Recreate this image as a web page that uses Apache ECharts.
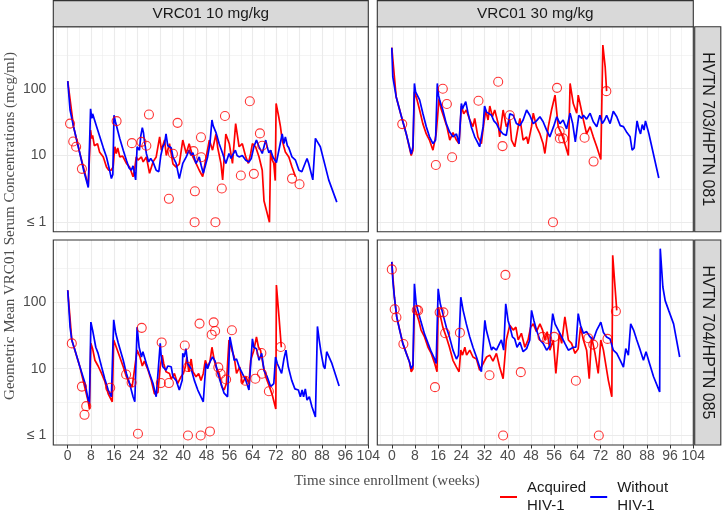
<!DOCTYPE html>
<html><head><meta charset="utf-8">
<script src="https://cdn.jsdelivr.net/npm/echarts@6/dist/echarts.min.js"></script>
<style>html,body{margin:0;padding:0;background:#fff}#c{width:722px;height:516px}</style>
</head><body><div id="c"></div>
<script>
// ---------- facet labels ----------
const doseLabels = ['VRC01 10 mg/kg', 'VRC01 30 mg/kg'];
const trialLabels = ['HVTN 703/HPTN 081', 'HVTN 704/HPTN 085'];
const legendNames = ['Acquired\nHIV-1', 'Without\nHIV-1'];
const xTitle = 'Time since enrollment (weeks)';
const yTitle = 'Geometric Mean VRC01 Serum Concentrations (mcg/ml)';

// ---------- axes / breaks ----------
const xTickLabels = [0, 8, 16, 24, 32, 40, 48, 56, 64, 72, 80, 88, 96, 104];
const xMinorBreaks = [-4, 4, 12, 20, 28, 36, 44, 52, 60, 68, 76, 84, 92, 100];
const yTickValues = [1, 10, 100];
const yMinorBreaks = [3.16, 31.6, 316];

// ---------- HVTN 703, 10 mg/kg ----------
const p703_10_acquired = [[0,130],[2,27],[4.2,10.7],[7.1,3.5],[7.9,24],[8.3,18],[8.6,20],[9.2,14],[9.8,13.5],[10.3,15],[11,11.3],[12.3,9.5],[13.4,6.7],[14.2,6],[15,6],[15.7,6.7],[16.3,13.5],[16.8,10.7],[17.3,13],[18,9.5],[19,9.8],[20.3,7.6],[21.4,6.7],[22.6,4.8],[23.1,6],[23.7,9.5],[24.3,8.5],[25.5,9.5],[26.1,8],[27.2,9.5],[28.3,5.4],[29.5,8],[30.6,9.5],[31.8,19],[32.4,12],[33.5,17],[34.1,10],[35.2,15],[36.4,7.5],[37.5,6.7],[38.6,7.5],[39.8,17],[41,10.7],[42,15],[43.3,9.5],[44.4,7.6],[45.5,6],[46.7,4.8],[47.8,9],[49,17],[50.1,12],[51.3,21],[51.9,13],[53,7.6],[53.6,4.3],[54.7,21],[55.9,15],[57,7.6],[58.1,30],[59.3,13.5],[60.4,15],[61.6,9.5],[62.5,7.6],[63.3,10.7],[63.9,15],[65,13.5],[66.2,9.5],[67.3,6],[67.9,2.1],[69.8,1.0],[70.2,12],[70.8,8.5],[71.3,7.6],[71.8,4.2],[72.1,60],[73,38],[73.6,27],[74.2,17],[74.8,13.5],[75.3,11.3],[76.5,9.5],[77.6,6.7],[78.8,4.8]];
const p703_10_without = [[0,130],[0.8,48],[2,27],[4.2,10.7],[5.5,6],[7.1,3.3],[7.9,50],[8.3,36],[8.6,42],[9,40],[10,27],[11.1,19],[12.3,13],[13.4,9.5],[14.3,6.5],[15.1,4.5],[15.6,5.2],[16,40],[16.5,32],[16.9,30],[18,18],[19.2,12],[20.3,8.5],[21.2,6.5],[22,6],[22.6,7],[23.5,4.3],[24,13.5],[24.8,12],[25.3,20],[25.8,26],[26.2,22],[26.5,17],[27.2,10.7],[28,8],[28.7,9],[29.5,8],[30.6,6],[31.5,5.7],[32.2,10],[32.9,13.5],[33.5,15],[34,21],[34.6,14],[35.2,15],[35.8,13],[36.4,9.5],[37.5,7.6],[38.6,4.5],[39.8,7.6],[41,9.5],[42,12],[42.7,10],[43.3,11],[44.4,7.6],[45.5,9.5],[46.2,7],[46.9,5.4],[47.6,7],[48.4,9.5],[49.2,15],[49.9,34],[50.3,28],[50.7,27],[51.3,22],[52.4,15],[53.6,10.7],[54.7,7.6],[55.8,10.7],[56.5,9],[57,10],[58,12],[58.6,10],[59.3,9.5],[60.4,10],[61.6,8.5],[62.7,8],[63.5,9],[64.4,13.5],[65.3,17],[66.2,13.5],[67.3,10.7],[68.5,17],[69.1,13],[69.6,11],[70.2,12],[71,9.5],[72.2,7.8],[73.3,13.5],[74.2,21],[74.8,15],[75.3,19],[76,14],[76.5,13],[77.6,9.5],[78.8,8.5],[80,6],[81,5.7],[81.8,7],[82.8,9],[83.4,7.5],[84,7.6],[84.8,4.3],[85.7,18],[86.4,16],[87.4,13.5],[90.3,4.3],[93.1,2.0]];
const p703_10_obs = [[0.8,30],[1.9,16.2],[2.9,13.5],[4.9,6.3],[16.9,32.7],[22.2,15.3],[25.5,16],[27.2,14],[28.1,41],[35,2.24],[36.4,10.6],[38,30.8],[43.5,11.6],[44,2.9],[43.9,1.0],[46.1,18.7],[46.2,9.4],[51.1,1.0],[53.3,3.2],[54.4,39],[59.9,5],[63,65],[64.4,5.3],[66.5,21.4],[67.3,14],[77.6,4.5],[80.2,3.7]];

// ---------- HVTN 703, 30 mg/kg ----------
const p703_30_acquired = [[0,412],[1.5,76],[3.2,40],[5,21],[6.7,10],[7.3,12],[7.8,90],[8.6,71],[9.6,48],[10.7,30],[11.9,21],[13,17],[14.2,12],[15.3,21],[16.3,71],[17,50],[17.9,38],[19,27],[20,17],[21.1,22],[22.3,17],[23.2,15],[24,55],[24.8,42],[25.7,48],[26.9,34],[28,27],[28.6,36],[29.7,19],[30.9,15],[31.5,25],[32.4,48],[33.2,34],[33.8,55],[34.7,38],[35.5,48],[36.7,30],[37.2,19],[38.4,48],[39.5,27],[40.7,34],[41.3,17],[42.4,13.5],[43.6,27],[44.2,36],[45.3,17],[46.5,19],[47,15],[48.2,27],[48.8,43],[49.9,27],[51.1,21],[52.2,15],[52.8,10.7],[54,27],[55.1,48],[56.3,80],[57.4,27],[58.6,21],[59.7,15],[60.9,10],[61.5,120],[62.6,60],[63.8,43],[64.3,80],[65.1,55],[66.1,34],[67.2,21],[68.4,27],[69.5,19],[70.7,13.5],[72.1,8.7],[72.8,450],[73.6,213],[74.1,92]];
const p703_30_without = [[0,412],[0.35,150],[1.5,76],[3.2,40],[5,21],[6.7,10.5],[7.3,13.5],[7.8,120],[8.2,90],[8.6,95],[9.6,68],[10.7,43],[11.9,27],[13,19],[14.2,15],[15.1,17],[15.7,120],[16.1,80],[16.5,68],[17.6,48],[18.8,30],[19.9,22.6],[21.1,19],[22.3,21],[23.2,15],[24,60],[24.4,50],[24.8,55],[25.5,64],[26.3,43],[27.4,27],[28.6,19],[29.5,16],[30.3,13.5],[31.5,27],[32,55],[32.6,45],[33.2,48],[34.4,40],[35.2,33],[36.1,30],[37.2,24],[38.4,21],[39.5,20],[40.7,42],[41.9,40],[43,30],[44.2,28],[45.3,34],[46.5,48],[47.6,40],[48.8,30],[49.9,33],[51.1,38],[52.2,32],[53.4,24],[54.5,19],[55.8,27],[56.9,38],[58,30],[59.1,34],[60.3,25],[61.5,43],[62.4,30],[63.3,16],[64.5,40],[65.5,36],[66.1,40],[67.2,35],[68.4,43],[69.5,32],[70.7,27],[71.8,40],[72.6,30],[73.4,34],[74.1,40],[75.3,30],[76.4,46],[77.6,38],[78.8,28],[79.9,27],[81.1,22],[82.2,19],[82.9,12],[83.6,13],[84.6,33],[85.2,25],[85.8,21],[86.4,29],[87,24],[87.5,33],[88.7,21],[92.1,4.6]];
const p703_30_obs = [[3.6,29.5],[17.6,100],[19,59],[15.2,7.2],[20.8,9.4],[29.9,66],[36.7,127],[38.2,13.8],[40.7,40],[55.6,1.0],[57,103],[57.9,23],[58,18],[59.1,18],[66.5,18.4],[69.6,8.1],[74,92]];

// ---------- HVTN 704, 10 mg/kg ----------
const p704_10_acquired = [[0,150],[1.4,27],[4.2,10.7],[7.1,3.2],[7.5,2.5],[8,24],[8.6,20],[9.4,13.4],[10.5,11],[11.7,8.5],[12.8,6.5],[14,4.2],[15.4,3.2],[15.9,27],[16.8,21],[18,15],[19.2,10.7],[20.3,7.6],[21.4,6],[22.3,5.4],[24,19],[25,15],[25.8,11],[26.5,13],[27.8,9.5],[28.9,6.7],[30,4.2],[31.2,4.4],[32,10.7],[32.7,16],[33.2,12],[34,9],[35.2,8.5],[35.8,7],[36.9,8.5],[38,6],[39.2,7.6],[40,8.5],[40.7,10.7],[41.2,15],[41.9,9],[42.7,14],[43.3,9],[44.4,7.6],[45.3,8.5],[46.1,6.7],[46.9,8.5],[47.6,13.4],[48.4,10.7],[49.2,12.7],[49.9,21],[50.7,13.4],[51.3,10.7],[52.4,8.5],[53.3,5.4],[54.1,4.8],[54.9,6],[55.8,27],[56.8,19],[57.6,15],[58.4,8.5],[59.5,10.7],[60.4,6],[61.6,7.6],[62.7,6],[63.3,13.4],[64.4,19],[65.3,30],[66,21],[66.7,19],[67.5,12],[68.5,7.6],[69.8,5.4],[70.8,4],[72,2.5],[72.2,180],[73.1,60],[73.9,21]];
const p704_10_without = [[0,150],[0.8,42],[1.4,27],[2.5,19],[4.2,10.7],[6,6],[7.1,3.4],[7.5,3],[8,50],[8.6,38],[9,36],[9.7,21],[10.5,17],[11.7,10.7],[12.8,7.1],[14,4.8],[15.1,3.8],[15.9,54],[16.6,34],[17.4,25],[18.2,19],[19.2,13.4],[20.3,8.5],[21.4,6],[22.6,3.8],[23.2,3.2],[24,42],[24.7,21],[25.5,15],[26,18],[27.2,12],[28.3,8.5],[29.5,6],[30.6,3.8],[32,24],[32.3,16],[32.9,10.7],[34,9.5],[34.6,11],[35.8,10.7],[36.4,7.6],[37.5,6.7],[38.6,4.8],[39.6,6.7],[39.8,17],[40.3,15],[40.9,20],[41.5,12],[42.7,10],[43.8,6.7],[45,4.8],[46.1,3.8],[46.9,3.2],[47.8,12],[48.4,10],[49.2,12.7],[50.1,15],[51,13],[51.8,9],[53,6],[54.1,4.3],[55.3,3.8],[56.1,30],[56.8,21],[57.6,13.4],[58.4,14],[59.3,10.7],[60.4,8.5],[61.6,6.7],[62.7,4.8],[63.3,4.6],[63.9,28],[64.4,21],[65.3,20],[66.2,13.4],[67.1,17],[67.9,9.5],[69,7.6],[70.2,5.4],[71.3,6],[71.9,15],[72.5,12],[74,8.5],[74.8,14],[75.5,19],[76.3,10.7],[77.5,6.7],[78.6,5],[79.8,4.8],[80.5,3.8],[81.1,4.8],[81.6,3.8],[82.2,5],[82.8,3.4],[83.6,3.8],[84.5,2.7],[85.7,1.9],[86.4,43],[87,27],[87.7,17],[88.5,11],[89,10],[89.6,18],[91.4,12],[93.9,5.5]];
const p704_10_obs = [[1.4,24],[4.9,5.4],[6.4,2.75],[5.8,2.04],[14.7,5.2],[20.2,8.2],[22.1,6.2],[24.3,1.06],[25.6,41],[32.5,24.8],[32.2,6.1],[35,6.1],[40.5,22.3],[41.6,10.6],[41.6,1.0],[45.6,47.5],[46,1.0],[49.2,1.15],[49.8,32.4],[50.5,49.6],[51,36.8],[52.1,10.5],[52.9,8.4],[54.8,6.9],[56.8,37.7],[61.4,6.6],[64.9,7.1],[67,17.2],[67.2,8.4],[69.6,4.6],[73.7,21.2]];

// ---------- HVTN 704, 30 mg/kg ----------
const p704_30_acquired = [[0,400],[0.9,118],[1.7,60],[3.8,24],[6.1,12.6],[6.7,9],[7.3,10],[7.8,84],[8.4,70],[9.3,53],[10.1,38],[11.3,30],[12.5,21],[13.6,17],[14.8,12],[15.6,9],[16,84],[16.7,63],[17.6,42],[18.8,30],[19.9,21],[21.1,13.4],[22.3,10.6],[23.2,9],[23.8,19],[24.4,16],[25.2,21],[25.8,16],[26.9,19],[28,15],[29.2,14],[30.3,9.5],[30.9,9],[32.1,13.4],[32.7,15],[33.8,16],[34.9,13],[36.1,17],[37.2,10.6],[38.4,7.1],[39.5,27],[40.7,45],[41.9,38],[42.8,42],[43.6,27],[44.7,34],[45.9,21],[47,27],[47.9,42],[48.8,47],[49.9,36],[51.1,47],[52,38],[52.8,27],[53.6,36],[54.5,19],[55.7,27],[56.6,8.5],[57.8,34],[58.6,24],[59.7,60],[60.9,27],[62,24],[63.2,17],[64.3,20],[65.1,42],[66.1,27],[67.2,19],[68.1,7.1],[68.9,30],[70.1,17],[71.2,8.5],[72.1,27],[73,19],[74.7,6.7],[75.9,3.8],[76.2,500],[77,168],[77.6,75]];
const p704_30_without = [[0,400],[0.35,210],[0.9,118],[1.7,60],[2.7,38],[3.8,24],[5,17],[6.1,12.6],[6.7,10],[7.3,11.3],[7.8,188],[8.4,95],[9,75],[10.1,50],[11.3,33],[12.5,24],[13.6,18],[14.8,14],[15.3,12],[16,158],[16.7,95],[17.6,67],[18.8,42],[19.9,30],[21.1,19],[22.3,14],[23,16],[23.8,118],[24.6,75],[25.7,47],[26.9,30],[28,21],[29.2,15],[30.3,10.6],[30.9,9],[32.1,53],[32.6,38],[33.8,24],[34.4,19],[34.9,21],[36.1,19],[37.2,24],[37.8,27],[38.6,19],[39.3,94],[40.1,53],[40.9,40],[41.6,30],[42.4,28],[43.2,21],[44.2,25],[45.3,18],[46.5,20],[47.6,27],[48.2,75],[49,53],[49.9,38],[51.1,27],[52.2,24],[53.4,19],[54.5,22],[55.5,67],[56.3,47],[57.4,38],[58.6,30],[59.7,24],[60.9,19],[62.6,21],[63.5,21],[64.3,67],[65.1,45],[66.1,34],[67.2,36],[68.4,30],[69.5,27],[70.7,38],[71.6,45],[72.1,50],[73,35],[74.1,30],[75.3,28],[76.4,19],[77.6,17],[78.8,13.4],[79.9,10.6],[80.7,20],[81.6,16],[82.4,47],[83.4,38],[84.5,27],[85.7,19],[86.8,13.4],[87.7,18],[88.9,12],[90.3,7.6],[92.4,4.5],[92.6,630],[93.5,168],[94.3,105],[95.5,75],[97.2,47],[99.3,15]];
const p704_30_obs = [[0,308],[1,78],[1.6,59],[4,23.5],[8.6,76],[9.1,75],[14.9,5.3],[16.5,70],[17.8,70],[18.4,34],[23.5,34.7],[33.7,8],[39.2,255],[38.4,1.0],[44.5,8.9],[52,30],[53.6,28],[56,30],[63.5,6.6],[67.8,28.6],[69.5,23],[71.4,1.0],[74.4,28],[77.3,72.6]];

// ---------- build ----------
const panelAcq = [p703_10_acquired, p703_30_acquired, p704_10_acquired, p704_30_acquired];
const panelWo = [p703_10_without, p703_30_without, p704_10_without, p704_30_without];
const panelObs = [p703_10_obs, p703_30_obs, p704_10_obs, p704_30_obs];

const RED = '#FF0000', BLUE = '#0000FF';
const SANS = 'Liberation Sans', SERIF = 'Liberation Serif';
const GRIDS = [
  {left: 53.3, top: 26.7, width: 315, height: 205},
  {left: 377.3, top: 26.7, width: 316, height: 205},
  {left: 53.3, top: 240, width: 315, height: 205},
  {left: 377.3, top: 240, width: 316, height: 205}
];
const MAJ = {color: '#EBEBEB', width: 1.1, type: 'solid'};
const MIN = {color: '#EBEBEB', width: 0.55, type: 'solid'};

const gridLines = [];
xMinorBreaks.forEach(v => gridLines.push({xAxis: v, lineStyle: MIN}));
yMinorBreaks.forEach(v => gridLines.push({yAxis: v, lineStyle: MIN}));
xTickLabels.forEach(v => gridLines.push({xAxis: v, lineStyle: MAJ}));
yTickValues.forEach(v => gridLines.push({yAxis: v, lineStyle: MAJ}));

const yLabelMap = {1: '\u2264 1', 10: '10', 100: '100'};

const xAxes = [], yAxes = [], series = [], graphics = [];
GRIDS.forEach((g, i) => {
  const bottomRow = i >= 2, leftCol = i % 2 === 0;
  xAxes.push({
    type: 'value', gridIndex: i, min: -5, max: 104, position: 'bottom',
    axisLine: {show: false, onZero: false},
    splitLine: {show: false},
    axisTick: {show: bottomRow, customValues: xTickLabels, length: 3.5, lineStyle: {color: '#333333', width: 1}},
    axisLabel: {show: bottomRow, customValues: xTickLabels, margin: 4, fontSize: 14, color: '#4D4D4D', fontFamily: SANS}
  });
  yAxes.push({
    type: 'log', logBase: 10, gridIndex: i, min: 0.72, max: 850,
    axisLine: {show: false},
    splitLine: {show: false}, minorSplitLine: {show: false}, minorTick: {show: false},
    axisTick: {show: leftCol, customValues: yTickValues, length: 3.5, lineStyle: {color: '#333333', width: 1}},
    axisLabel: {show: leftCol, customValues: yTickValues, margin: 7, fontSize: 14, color: '#4D4D4D', fontFamily: SANS,
      formatter: v => { const k = Math.round(v); return yLabelMap[k] !== undefined && Math.abs(v - k) < 1e-6 ? yLabelMap[k] : ''; }}
  });
  series.push({
    type: 'line', name: legendNames[0], xAxisIndex: i, yAxisIndex: i, data: panelAcq[i],
    showSymbol: false, symbol: 'none', z: 2,
    lineStyle: {color: RED, width: 1.7}, itemStyle: {color: RED}
  });
  series.push({
    type: 'line', name: legendNames[1], xAxisIndex: i, yAxisIndex: i, data: panelWo[i],
    showSymbol: false, symbol: 'none', z: 3,
    lineStyle: {color: BLUE, width: 1.7}, itemStyle: {color: BLUE}
  });
  series.push({
    type: 'scatter', name: 'obs', xAxisIndex: i, yAxisIndex: i, data: panelObs[i],
    symbol: 'circle', symbolSize: 9, z: 4,
    itemStyle: {color: 'rgba(0,0,0,0)', borderColor: RED, borderWidth: 1.1},
    markLine: {silent: true, z: 1, symbol: ['none', 'none'], label: {show: false},
      emphasis: {disabled: true}, animation: false, data: gridLines}
  });
  // panel border on top
  graphics.push({type: 'rect', z: 100, silent: true,
    shape: {x: g.left, y: g.top, width: g.width, height: g.height},
    style: {fill: 'none', stroke: '#333333', lineWidth: 1.1}});
});

// top strips
[0, 1].forEach(c => {
  const g = GRIDS[c];
  graphics.push({type: 'rect', z: 100, silent: true,
    shape: {x: g.left, y: 0.6, width: g.width, height: g.top - 0.6},
    style: {fill: '#D9D9D9', stroke: '#333333', lineWidth: 1.1}});
  graphics.push({type: 'text', z: 101, silent: true, x: g.left + g.width / 2, y: (g.top + 0.6) / 2,
    style: {text: doseLabels[c], fill: '#1A1A1A', font: '15.3px "' + SANS + '"', align: 'center', verticalAlign: 'middle'}});
});
// right strips
[0, 1].forEach(r => {
  const g = GRIDS[r * 2 + 1];
  graphics.push({type: 'rect', z: 100, silent: true,
    shape: {x: g.left + g.width + 1.4, y: g.top, width: 720.8 - (g.left + g.width + 1.4), height: g.height},
    style: {fill: '#D9D9D9', stroke: '#333333', lineWidth: 1.1}});
  graphics.push({type: 'text', z: 101, silent: true, x: 707.6, y: g.top + g.height / 2, rotation: -Math.PI / 2,
    style: {text: trialLabels[r], fill: '#1A1A1A', font: '16px "' + SANS + '"', align: 'center', verticalAlign: 'middle'}});
});
// axis titles
graphics.push({type: 'text', silent: true, x: 10, y: 226, rotation: Math.PI / 2,
  style: {text: yTitle, fill: '#4D4D4D', font: '15px "' + SERIF + '"', align: 'center', verticalAlign: 'middle'}});
graphics.push({type: 'text', silent: true, x: 387, y: 481,
  style: {text: xTitle, fill: '#4D4D4D', font: '15px "' + SERIF + '"', align: 'center', verticalAlign: 'middle'}});

const chart = echarts.init(document.getElementById('c'), null, {renderer: 'canvas'});
chart.setOption({
  animation: false,
  backgroundColor: '#FFFFFF',
  grid: GRIDS.map(g => Object.assign({show: true, backgroundColor: '#FFFFFF', borderWidth: 0, containLabel: false}, g)),
  xAxis: xAxes,
  yAxis: yAxes,
  legend: {
    left: 495, top: 474, orient: 'horizontal', itemWidth: 17, itemHeight: 2, itemGap: 4,
    selectedMode: false,
    data: [{name: legendNames[0], icon: 'rect'}, {name: legendNames[1], icon: 'rect'}],
    textStyle: {fontSize: 15, color: '#1A1A1A', fontFamily: SANS, lineHeight: 18, padding: [0, 0, 0, 5]}
  },
  series: series,
  graphic: graphics
});
</script></body></html>
